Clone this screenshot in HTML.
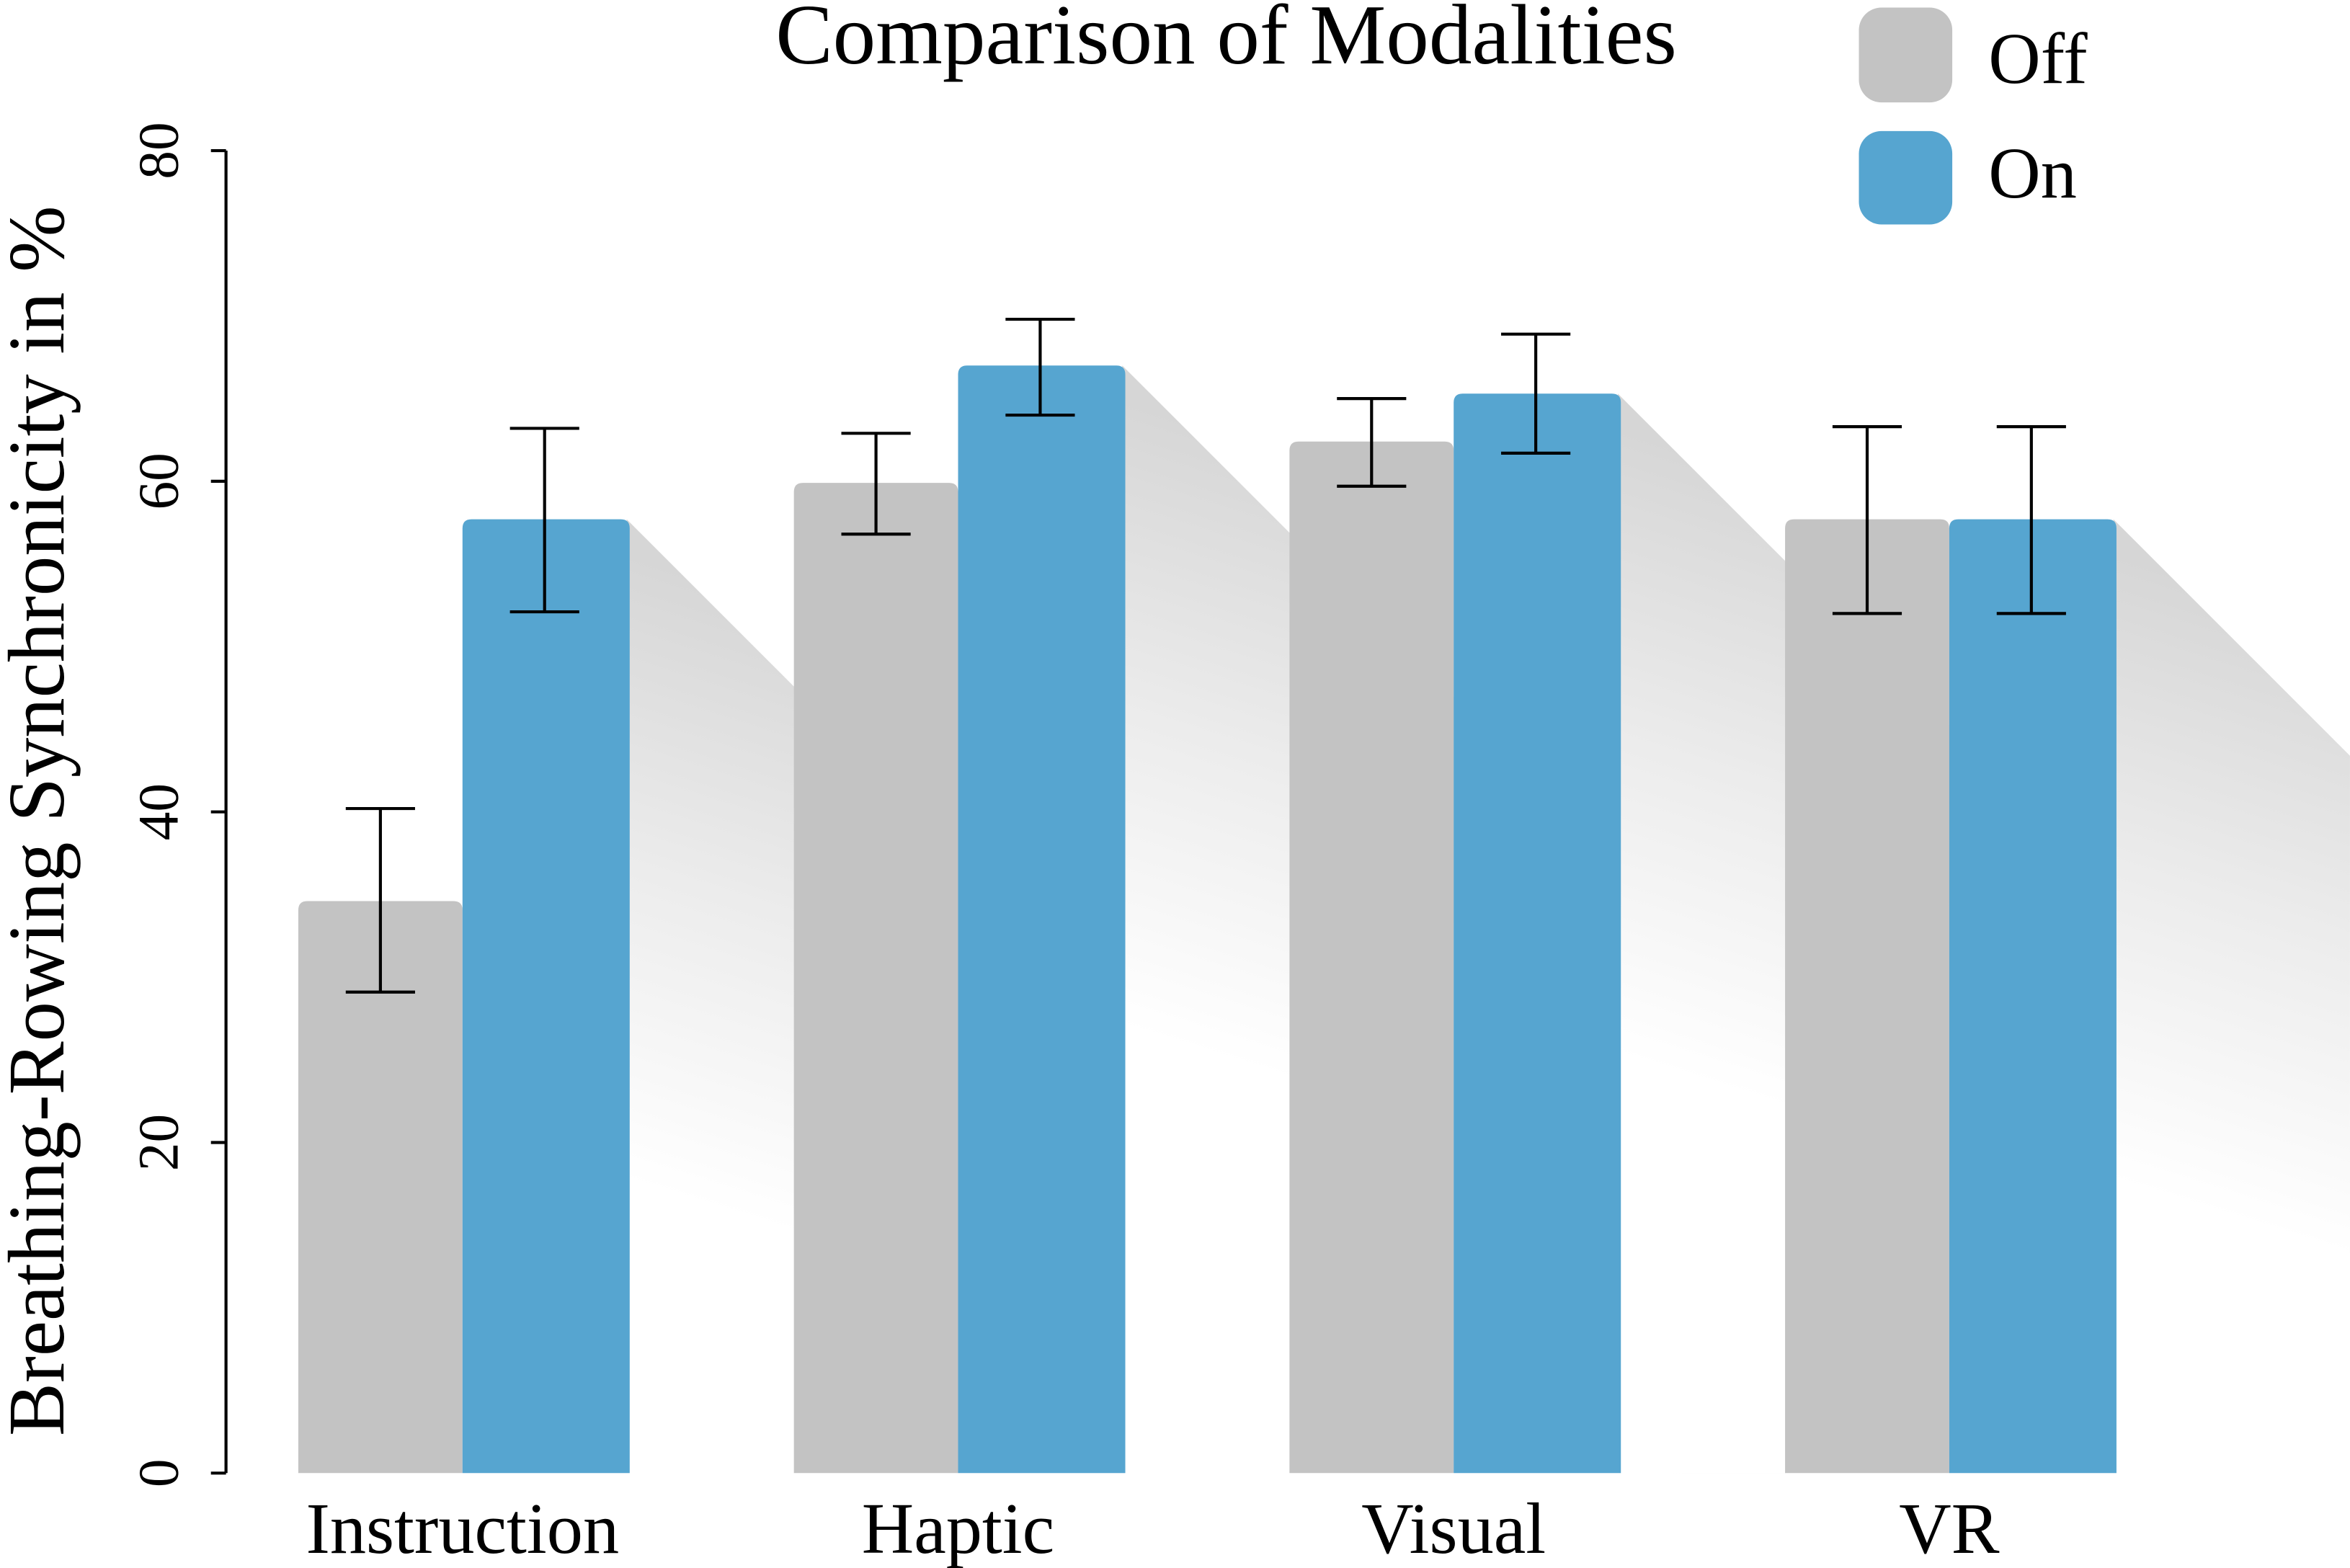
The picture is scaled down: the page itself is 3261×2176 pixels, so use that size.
<!DOCTYPE html>
<html><head><meta charset="utf-8"><style>
html,body{margin:0;padding:0;background:#fff;overflow:hidden;width:3261px;height:2176px}
svg{display:block}
text{font-family:"Liberation Serif",serif;fill:#000}
</style></head><body>
<svg id="chart" width="3261" height="2176" viewBox="0 0 1560 1041" xmlns="http://www.w3.org/2000/svg">
<defs id="defs">
<clipPath id="plotclip"><rect x="150" y="0" width="1410" height="978"/></clipPath>
</defs>
<text x="814" y="42" font-size="57" text-anchor="middle">Comparison of Modalities</text>
<g>
<rect x="1234" y="5" width="62" height="63" rx="15" fill="#c3c3c3"/>
<text x="1320" y="55" font-size="48">Off</text>
<rect x="1234" y="87" width="62" height="62" rx="15" fill="#56a5d0"/>
<text x="1320" y="131" font-size="48">On</text>
</g>
<text transform="translate(42,545) rotate(-90)" font-size="53" text-anchor="middle">Breathing-Rowing Synchronicity in %</text>
<g id="shadows" clip-path="url(#plotclip)"></g>
<g id="bars"></g>
<g id="axis"></g>
</svg>
<script>
const categories = ["Instruction","Haptic","Visual","VR"];
const offValues = [34.6, 59.9, 62.4, 57.7];
const onValues = [57.7, 67.0, 65.3, 57.7];
const offLow = [29.1, 56.8, 59.7, 52.0];
const offHigh = [40.2, 62.9, 65.0, 63.3];
const onLow = [52.1, 64.0, 61.7, 52.0];
const onHigh = [63.2, 69.8, 68.9, 63.3];
const yTicks = [0, 20, 40, 60, 80];

const NS = "http://www.w3.org/2000/svg";
const y = v => 978 - v * (878 / 80);
const groupX = i => 198 + i * 329;
const BW = 109;
function mk(tag, attrs, parent){ const e = document.createElementNS(NS, tag); for (const k in attrs) e.setAttribute(k, attrs[k]); parent.appendChild(e); return e; }
const defs = document.getElementById('defs');
const shadows = document.getElementById('shadows');
const bars = document.getElementById('bars');
const axis = document.getElementById('axis');

function barPath(x, top, w){
  const r = 6, b = 978;
  return `M${x},${b} L${x},${top+r} Q${x},${top} ${x+r},${top} L${x+w-r},${top} Q${x+w},${top} ${x+w},${top+r} L${x+w},${b} Z`;
}
function errBar(cx, lo, hi, name){
  const g = mk('g', {stroke:'#000','stroke-width':2,fill:'none'}, bars);
  
  
  mk('line', {x1:cx, x2:cx, y1:y(hi), y2:y(lo)}, g);
  mk('line', {x1:cx-23, x2:cx+23, y1:y(hi), y2:y(hi)}, g);
  mk('line', {x1:cx-23, x2:cx+23, y1:y(lo), y2:y(lo)}, g);
}

categories.forEach((c, i) => {
  const gx = groupX(i);
  const onX = gx + BW;
  const rx = onX + BW;
  const top = y(onValues[i]);
  const gid = 'sg' + i;
  const lg = mk('linearGradient', {id:gid, gradientUnits:'userSpaceOnUse', x1:rx+60, y1:top+40, x2:rx-60, y2:top+420}, defs);
  mk('stop', {offset:0, 'stop-color':'#d6d6d6'}, lg);
  mk('stop', {offset:0.5, 'stop-color':'#ececec'}, lg);
  mk('stop', {offset:1, 'stop-color':'#ffffff'}, lg);
  const sh = mk('polygon', {points:`${rx},${top} ${rx+900},${top+900} ${rx+900},978 ${rx},978`, fill:`url(#${gid})`}, shadows);
  
  

  const bOff = mk('path', {d: barPath(gx, y(offValues[i]), BW), fill:'#c3c3c3'}, bars);
  
  
  const bOn = mk('path', {d: barPath(onX, top, BW+2), fill:'#56a5d0'}, bars);
  
  
  errBar(gx + BW/2, offLow[i], offHigh[i], 'error-bar-off-' + c.toLowerCase());
  errBar(onX + BW/2, onLow[i], onHigh[i], 'error-bar-on-' + c.toLowerCase());

  const t = mk('text', {x: gx + BW, y: 1031, 'font-size': 48, 'text-anchor':'middle'}, axis);
  t.textContent = c;
  
  
});

const ax = mk('line', {x1:150, x2:150, y1:y(80), y2:y(0), stroke:'#000','stroke-width':2}, axis);


yTicks.forEach(v => {
  const tk = mk('line', {x1:140, x2:150, y1:y(v), y2:y(v), stroke:'#000','stroke-width':2}, axis);
  
  
  const tl = mk('text', {transform:`translate(118,${y(v)}) rotate(-90)`, 'font-size':38, 'text-anchor':'middle'}, axis);
  tl.textContent = v;
  
  
});
</script>
</body></html>
